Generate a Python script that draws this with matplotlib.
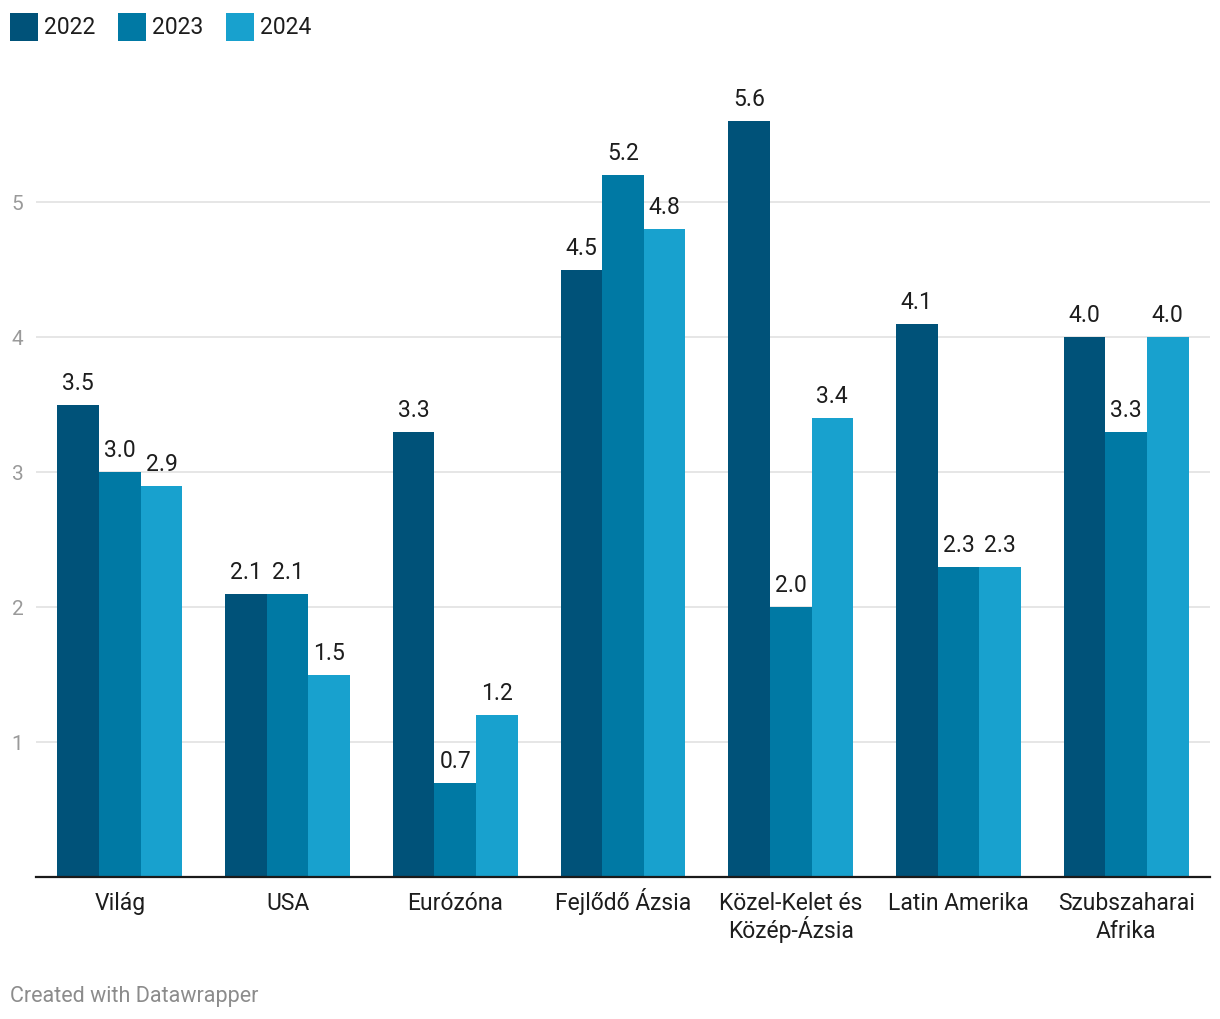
import matplotlib
matplotlib.use("Agg")
import matplotlib.pyplot as plt
from matplotlib.patches import Rectangle
import numpy as np

plt.rcParams["font.family"] = ["Roboto", "DejaVu Sans"]

categories = [
    "Világ",
    "USA",
    "Eurózóna",
    "Fejlődő Ázsia",
    "Közel-Kelet és\nKözép-Ázsia",
    "Latin Amerika",
    "Szubszaharai\nAfrika",
]
years = ["2022", "2023", "2024"]
values_2022 = [3.5, 2.1, 3.3, 4.5, 5.6, 4.1, 4.0]
values_2023 = [3.0, 2.1, 0.7, 5.2, 2.0, 2.3, 3.3]
values_2024 = [2.9, 1.5, 1.2, 4.8, 3.4, 2.3, 4.0]
yticks = [1, 2, 3, 4, 5]

colors = ["#005279", "#0079a4", "#18a1ce"]
W, H = 1220, 1020
PX = 0.72  # points per pixel at 100 dpi

fig = plt.figure(figsize=(W / 100, H / 100), dpi=100)
ax = fig.add_axes([36 / W, (H - 878) / H, 1174 / W, 5.9 * 135 / H])

x = np.arange(len(categories))
bw = 0.248
series = [values_2022, values_2023, values_2024]
for i, (vals, col) in enumerate(zip(series, colors)):
    pos = x + (i - 1) * bw
    ax.bar(pos, vals, width=bw, color=col, linewidth=0, zorder=2)
    for px, v in zip(pos, vals):
        ax.annotate(f"{v:.1f}", (px, v), xytext=(0, 11.5), textcoords="offset points",
                    ha="center", va="baseline", fontsize=16.5, color="#1d1d1d")

ax.set_xlim(-0.5, len(categories) - 0.5)
ax.set_ylim(0, 5.9)
ax.set_yticks(yticks)
ax.set_yticklabels([str(t) for t in yticks])
ax.grid(axis="y", color="#e4e4e4", linewidth=1.3, zorder=0)
ax.tick_params(axis="y", length=0, pad=9, labelsize=15, labelcolor="#9a9a9a")

# category labels, one text per line so every baseline sits at the same height
ax.set_xticks(x)
ax.set_xticklabels([])
ax.tick_params(axis="x", length=0)
for xi, cat in zip(x, categories):
    for k, line in enumerate(cat.split("\n")):
        ax.annotate(line, (xi, 0), xycoords=("data", "axes fraction"),
                    xytext=(0, -(32 + 28 * k) * PX), textcoords="offset points",
                    ha="center", va="baseline", fontsize=16.5, color="#1d1d1d")

for s in ["top", "right", "left"]:
    ax.spines[s].set_visible(False)
ax.spines["bottom"].set_color("#1a1a1a")
ax.spines["bottom"].set_linewidth(1.6)
ax.spines["bottom"].set_zorder(3)

# legend
leg_x = [10, 118, 226]
for lx, yr, col in zip(leg_x, years, colors):
    fig.patches.append(Rectangle((lx / W, (H - 42) / H), 28 / W, 28 / H,
                                 transform=fig.transFigure, color=col, linewidth=0))
    fig.text((lx + 34) / W, (H - 27) / H, yr, fontsize=16.5, color="#1d1d1d",
             va="center", ha="left")

fig.text(10 / W, (H - 997) / H, "Created with Datawrapper", fontsize=15.5,
         color="#8c8c8c", va="center", ha="left")

fig.savefig("out.png", dpi=100, facecolor="white")
